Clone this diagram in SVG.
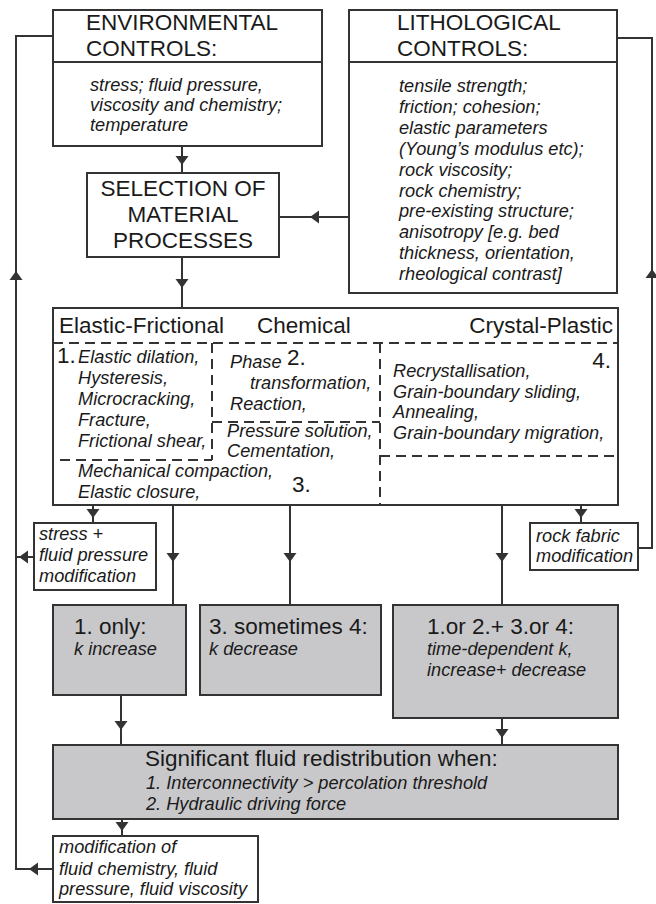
<svg xmlns="http://www.w3.org/2000/svg" xmlns:xlink="http://www.w3.org/1999/xlink" width="656" height="904" viewBox="0 0 656 904">
<style>
.box{fill:#fff;stroke:#333;stroke-width:2}
.gbox{fill:#c8c8ca;stroke:#333;stroke-width:2}
.ln{fill:none;stroke:#333;stroke-width:2}
.dash{fill:none;stroke:#333;stroke-width:2;stroke-dasharray:10 6}
.ah{fill:#333}
text{font-family:"Liberation Sans",Arial,sans-serif;fill:#1a1a1a}
.t{font-size:22.5px}
.i{font-size:18.2px;font-style:italic}
</style>
<defs>
<path id="ad" d="M-6.5,-9 L6.5,-9 L0,0 Z"/>
<path id="au" d="M-6.5,9 L6.5,9 L0,0 Z"/>
<path id="al" d="M9,-6.5 L9,6.5 L0,0 Z"/>
</defs>
<g id="connectors">
<path class="ln" d="M182,146V173M182,257V308M349,217H279M53,36H16V869H53M34,557H16M638,548H652V38H617M93,505V523M173,505V605M290,505V605M502,505V605M581,505V523M121,695V745M502,718V745M122,819V836"/>
<g class="ah">
<use xlink:href="#ad" x="182" y="165"/>
<use xlink:href="#ad" x="182" y="288"/>
<use xlink:href="#al" x="310" y="217"/>
<use xlink:href="#au" x="16" y="271"/>
<use xlink:href="#au" x="652" y="269"/>
<use xlink:href="#al" x="19" y="557"/>
<use xlink:href="#al" x="29" y="869"/>
<use xlink:href="#ad" x="93" y="518"/>
<use xlink:href="#ad" x="173" y="562"/>
<use xlink:href="#ad" x="290" y="562"/>
<use xlink:href="#ad" x="502" y="562"/>
<use xlink:href="#ad" x="581" y="518"/>
<use xlink:href="#ad" x="121" y="730"/>
<use xlink:href="#ad" x="502" y="738"/>
<use xlink:href="#ad" x="122" y="831"/>
</g>
</g>
<g id="env">
<rect class="box" x="53" y="10" width="269" height="136"/>
<path class="ln" d="M53,62H322"/>
<text class="t" x="86" y="30">ENVIRONMENTAL</text>
<text class="t" x="86" y="56">CONTROLS:</text>
<text class="i" x="90" y="91">stress; fluid pressure,</text>
<text class="i" x="90" y="111">viscosity and chemistry;</text>
<text class="i" x="90" y="131">temperature</text>
</g>
<g id="litho">
<rect class="box" x="349" y="10" width="268" height="283"/>
<path class="ln" d="M349,62H617"/>
<text class="t" x="397" y="30">LITHOLOGICAL</text>
<text class="t" x="397" y="56">CONTROLS:</text>
<text class="i" x="399" y="92">tensile strength;</text>
<text class="i" x="399" y="113">friction; cohesion;</text>
<text class="i" x="399" y="134">elastic parameters</text>
<text class="i" x="399" y="155">(Young’s modulus etc);</text>
<text class="i" x="399" y="176">rock viscosity;</text>
<text class="i" x="399" y="197">rock chemistry;</text>
<text class="i" x="399" y="217">pre-existing structure;</text>
<text class="i" x="399" y="238">anisotropy [e.g. bed</text>
<text class="i" x="399" y="259">thickness, orientation,</text>
<text class="i" x="399" y="280">rheological contrast]</text>
</g>
<g id="selection">
<rect class="box" x="87" y="173" width="192" height="84"/>
<text class="t" x="183" y="196" text-anchor="middle">SELECTION OF</text>
<text class="t" x="183" y="222" text-anchor="middle">MATERIAL</text>
<text class="t" x="183" y="248" text-anchor="middle">PROCESSES</text>
</g>
<g id="processes">
<rect class="box" x="53" y="308" width="565" height="197"/>
<text class="t" x="59" y="333">Elastic-Frictional</text>
<text class="t" x="257" y="333">Chemical</text>
<text class="t" x="613" y="333" text-anchor="end">Crystal-Plastic</text>
<path class="dash" d="M53,343H618M212,343V460M60,460H212M212,422H380M380,343V505M380,456H618"/>
<text class="t" x="57" y="363">1.</text>
<text class="i" x="78" y="363">Elastic dilation,</text>
<text class="i" x="78" y="384">Hysteresis,</text>
<text class="i" x="78" y="405">Microcracking,</text>
<text class="i" x="78" y="426">Fracture,</text>
<text class="i" x="78" y="447">Frictional shear,</text>
<text class="i" x="230" y="368">Phase</text>
<text class="t" x="287" y="365">2.</text>
<text class="i" x="250" y="389">transformation,</text>
<text class="i" x="230" y="410">Reaction,</text>
<text class="i" x="227" y="437">Pressure solution,</text>
<text class="i" x="227" y="457">Cementation,</text>
<text class="i" x="78" y="477">Mechanical compaction,</text>
<text class="i" x="78" y="498">Elastic closure,</text>
<text class="t" x="292" y="492">3.</text>
<text class="t" x="611" y="368" text-anchor="end">4.</text>
<text class="i" x="393" y="377">Recrystallisation,</text>
<text class="i" x="393" y="398">Grain-boundary sliding,</text>
<text class="i" x="393" y="418">Annealing,</text>
<text class="i" x="393" y="439">Grain-boundary migration,</text>
</g>
<g id="stress">
<rect class="box" x="34" y="523" width="122" height="67"/>
<text class="i" x="39" y="540">stress +</text>
<text class="i" x="39" y="561">fluid pressure</text>
<text class="i" x="39" y="582">modification</text>
</g>
<g id="fabric">
<rect class="box" x="530" y="523" width="108" height="47"/>
<text class="i" x="536" y="542">rock fabric</text>
<text class="i" x="536" y="562">modification</text>
</g>
<g id="k1">
<rect class="gbox" x="53" y="605" width="133" height="90"/>
<text class="t" x="74" y="634">1. only:</text>
<text class="i" x="74" y="655">k increase</text>
</g>
<g id="k2">
<rect class="gbox" x="200" y="605" width="181" height="90"/>
<text class="t" x="209" y="634">3. sometimes 4:</text>
<text class="i" x="209" y="655">k decrease</text>
</g>
<g id="k3">
<rect class="gbox" x="393" y="605" width="225" height="113"/>
<text class="t" x="427" y="634">1.or 2.+ 3.or 4:</text>
<text class="i" x="427" y="655">time-dependent k,</text>
<text class="i" x="427" y="676">increase+ decrease</text>
</g>
<g id="redistribution">
<rect class="gbox" x="53" y="745" width="565" height="74"/>
<text class="t" x="145" y="766">Significant fluid redistribution when:</text>
<text class="i" x="146" y="789">1. Interconnectivity &gt; percolation threshold</text>
<text class="i" x="146" y="810">2. Hydraulic driving force</text>
</g>
<g id="fluidmod">
<rect class="box" x="53" y="836" width="205" height="66"/>
<text class="i" x="59" y="853">modification of</text>
<text class="i" x="59" y="875">fluid chemistry, fluid</text>
<text class="i" x="59" y="895">pressure, fluid viscosity</text>
</g>
</svg>
